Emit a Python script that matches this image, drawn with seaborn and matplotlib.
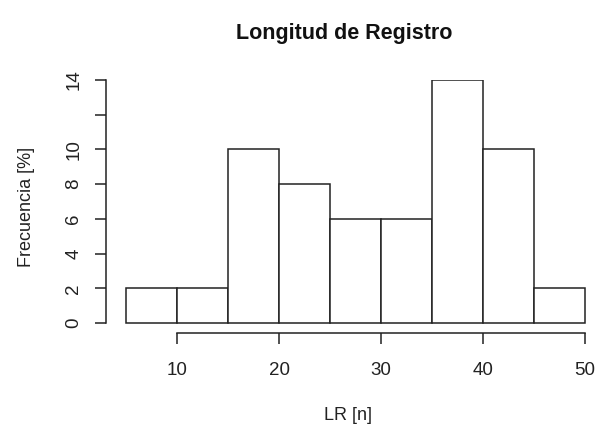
import matplotlib
matplotlib.use("Agg")
import matplotlib.pyplot as plt
import seaborn as sns
import numpy as np

bin_edges = [5, 10, 15, 20, 25, 30, 35, 40, 45, 50]
counts = [2, 2, 10, 8, 6, 6, 14, 10, 2]
centers = [(a + b) / 2 for a, b in zip(bin_edges[:-1], bin_edges[1:])]
x_ticks = [10, 20, 30, 40, 50]
y_ticks = [0, 2, 4, 6, 8, 10, 12, 14]
y_labels = ["0", "2", "4", "6", "8", "10", "", "14"]

sns.set_style("white")
plt.rcParams["font.family"] = ["Liberation Sans", "DejaVu Sans"]

fig = plt.figure(figsize=(5.97, 4.25), dpi=100)
left = 106 / 597
right = 590 / 597
bottom = (425 - 333) / 425
top = (425 - 80) / 425
ax = fig.add_axes([left, bottom, right - left, top - bottom])

sns.histplot(x=centers, weights=counts, bins=bin_edges, color="white",
             edgecolor="#222222", linewidth=1.1, alpha=1, ax=ax)

ax.set_xlim(3.0, 50.5)
ax.set_ylim(-0.576, 14)
for s in ["top", "right"]:
    ax.spines[s].set_visible(False)
ax.spines["left"].set_bounds(0, 14)
ax.spines["bottom"].set_bounds(10, 50)
for s in ["left", "bottom"]:
    ax.spines[s].set_color("#222222")
    ax.spines[s].set_linewidth(1.1)

ax.set_xticks(x_ticks)
ax.set_xticklabels([str(t) for t in x_ticks])
ax.set_yticks(y_ticks)
ax.set_yticklabels(y_labels, rotation=90, va="center")
ax.tick_params(axis="both", direction="out", length=8, width=1.1,
               color="#222222", labelsize=13.5, labelcolor="#222222",
               bottom=True, left=True)
ax.tick_params(axis="x", pad=13)
ax.tick_params(axis="y", pad=9)

ax.set_xlabel("LR [n]", fontsize=13, color="#222222", labelpad=20)
ax.set_ylabel("Frecuencia [%]", fontsize=13, color="#222222", labelpad=22)
fig.text(344 / 597, 1 - 33 / 425, "Longitud de Registro", ha="center",
         va="center", fontsize=15.5, fontweight="bold", color="#111111")

fig.savefig("out.png", dpi=100, facecolor="white")
